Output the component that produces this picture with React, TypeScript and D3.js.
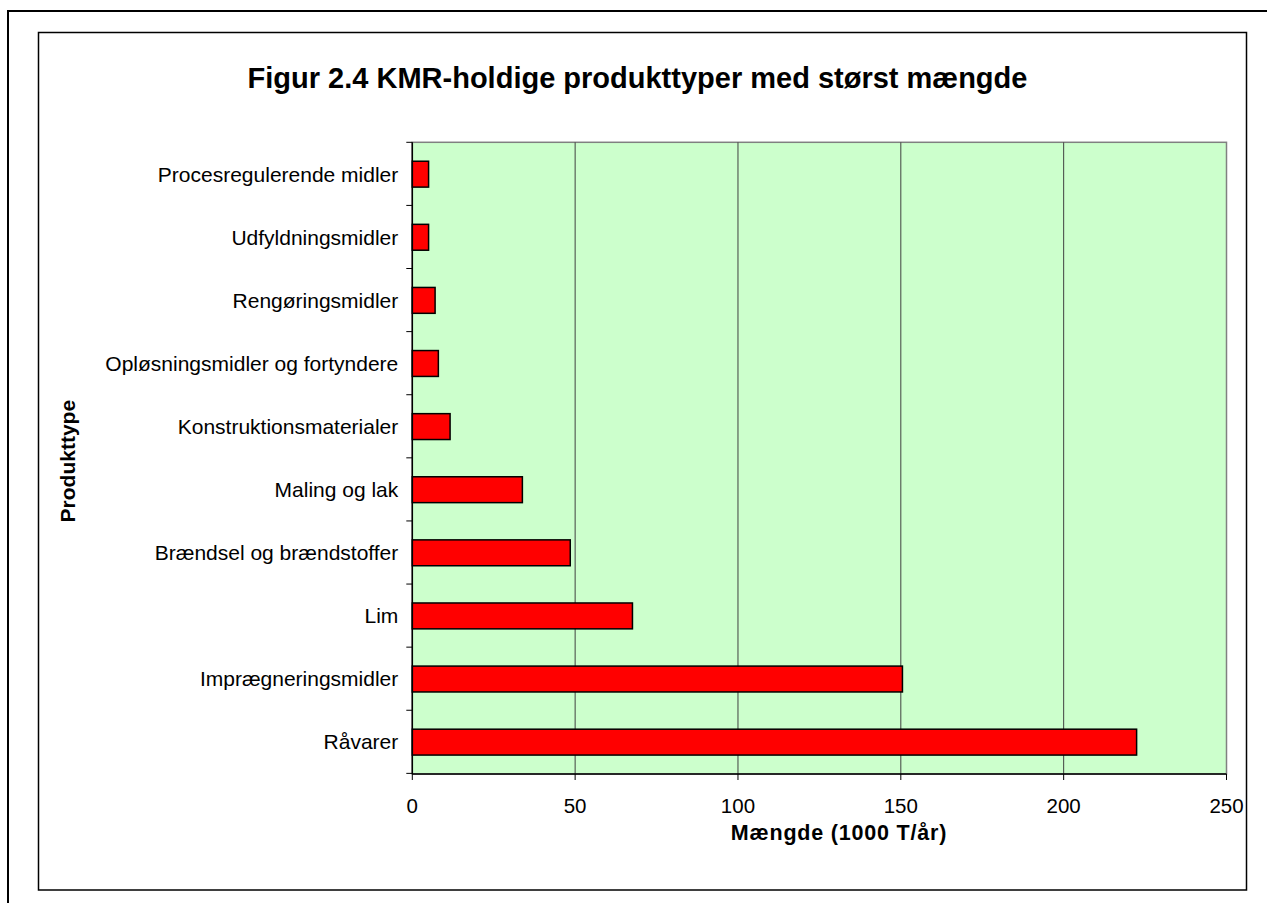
import React from "react";
import * as d3 from "d3";

const categories = [
  "Procesregulerende midler",
  "Udfyldningsmidler",
  "Rengøringsmidler",
  "Opløsningsmidler og fortyndere",
  "Konstruktionsmaterialer",
  "Maling og lak",
  "Brændsel og brændstoffer",
  "Lim",
  "Imprægneringsmidler",
  "Råvarer",
];
const values = [5, 5, 7, 8, 11.6, 33.8, 48.5, 67.6, 150.5, 222.4];
const xTicks = [0, 50, 100, 150, 200, 250];

const title = "Figur 2.4 KMR-holdige produkttyper med størst mængde";
const xTitle = "Mængde (1000 T/år)";
const yTitle = "Produkttype";

export default function App() {
  const W = 1267;
  const H = 903;
  const left = 412.3;
  const right = 1226.5;
  const top = 142.3;
  const bottom = 774;
  const font = "Liberation Sans, Arial, sans-serif";

  const x = d3.scaleLinear().domain([0, 250]).range([left, right]);
  const y = d3
    .scaleBand<string>()
    .domain(categories)
    .range([top, bottom])
    .paddingInner(0.59)
    .paddingOuter(0.3);
  const step = y.step();
  const tickYs = d3.range(categories.length + 1).map((i) => top + i * step);

  return (
    <svg
      width={W}
      height={H}
      style={{ position: "absolute", left: 0, top: 0, background: "#fff" }}
      fontFamily={font}
    >
      <rect x={0} y={0} width={W} height={H} fill="#fff" />
      {/* outer frame */}
      <rect x={8} y={11} width={W + 20} height={H + 20} fill="none" stroke="#000" strokeWidth={2} />
      {/* inner frame */}
      <rect x={38.5} y={32.5} width={1208} height={857.5} fill="none" stroke="#000" strokeWidth={1.5} />

      <text x={637.5} y={88} textAnchor="middle" fontSize={29} fontWeight="bold" fill="#000">
        {title}
      </text>

      {/* plot area */}
      <rect x={left} y={top} width={right - left} height={bottom - top} fill="#ccffcc" stroke="#808080" strokeWidth={1.5} />

      {/* gridlines */}
      {xTicks.slice(1, -1).map((t) => (
        <line key={t} x1={x(t)} x2={x(t)} y1={top} y2={bottom} stroke="#404040" strokeWidth={1} />
      ))}

      {/* bars */}
      {categories.map((c, i) => (
        <rect
          key={c}
          x={x(0)}
          y={y(c)!}
          width={x(values[i]) - x(0)}
          height={y.bandwidth()}
          fill="#ff0000"
          stroke="#000"
          strokeWidth={1.5}
        />
      ))}

      {/* y axis */}
      <line x1={left} x2={left} y1={top} y2={bottom} stroke="#000" strokeWidth={1.5} />
      {tickYs.map((ty, i) => (
        <line key={i} x1={left - 6} x2={left} y1={ty} y2={ty} stroke="#000" strokeWidth={1} />
      ))}
      {categories.map((c) => (
        <text
          key={c}
          x={left - 14}
          y={y(c)! + y.bandwidth() / 2}
          dy="0.35em"
          textAnchor="end"
          fontSize={21}
          fill="#000"
        >
          {c}
        </text>
      ))}

      {/* x axis */}
      <line x1={left} x2={right} y1={bottom} y2={bottom} stroke="#000" strokeWidth={1.5} />
      {xTicks.map((t) => (
        <g key={t}>
          <line x1={x(t)} x2={x(t)} y1={bottom} y2={bottom + 6} stroke="#000" strokeWidth={1} />
          <text x={x(t)} y={813} textAnchor="middle" fontSize={20.5} fill="#000">
            {t}
          </text>
        </g>
      ))}

      <text x={839} y={840} textAnchor="middle" fontSize={21.5} fontWeight="bold" letterSpacing={0.8} fill="#000">
        {xTitle}
      </text>
      <text
        transform={`translate(75, ${(top + bottom) / 2 + 3}) rotate(-90)`}
        textAnchor="middle"
        fontSize={21}
        fontWeight="bold"
        fill="#000"
      >
        {yTitle}
      </text>
    </svg>
  );
}
